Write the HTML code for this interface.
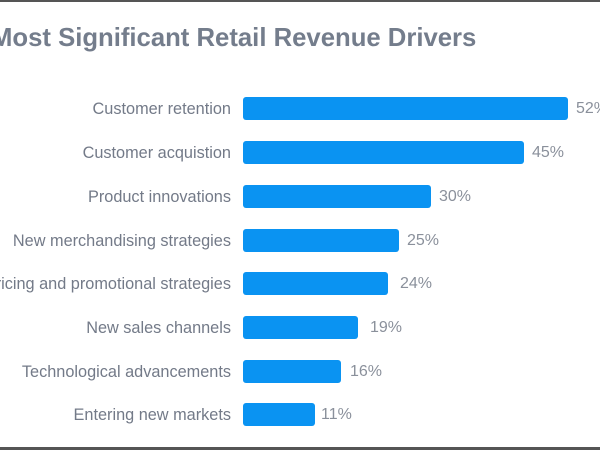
<!DOCTYPE html>
<html><head><style>
html,body{margin:0;padding:0;background:#fff;}
.w{position:relative;width:600px;height:450px;overflow:hidden;font-family:"Liberation Sans",sans-serif;}
.t{position:absolute;left:-9px;top:24px;font-size:25.7px;font-weight:bold;color:#747d8c;white-space:nowrap;}
.l{position:absolute;right:369px;font-size:16.3px;color:#737a88;white-space:nowrap;line-height:22px;}
.b{position:absolute;left:243px;height:23px;background:#0a93f2;border-radius:3px;}
.v{position:absolute;font-size:16px;color:#8a909b;line-height:22px;white-space:nowrap;}
.tl{position:absolute;left:0;top:0;width:600px;height:2px;background:#555;}
.bl{position:absolute;left:0;top:447px;width:600px;height:3px;background:#555;}
</style></head><body><div class="w">
<div class="tl"></div><div class="bl"></div>
<div class="t">Most Significant Retail Revenue Drivers</div>

<div class="l" style="top:98px">Customer retention</div><div class="b" style="top:97px;width:325px"></div><div class="v" style="left:576px;top:98px">52%</div>
<div class="l" style="top:142px">Customer acquistion</div><div class="b" style="top:141px;width:281px"></div><div class="v" style="left:532px;top:142px">45%</div>
<div class="l" style="top:186px">Product innovations</div><div class="b" style="top:185px;width:188px"></div><div class="v" style="left:439px;top:186px">30%</div>
<div class="l" style="top:230px">New merchandising strategies</div><div class="b" style="top:229px;width:156px"></div><div class="v" style="left:407px;top:230px">25%</div>
<div class="l" style="top:273px">Pricing and promotional strategies</div><div class="b" style="top:272px;width:145px"></div><div class="v" style="left:400px;top:273px">24%</div>
<div class="l" style="top:317px">New sales channels</div><div class="b" style="top:316px;width:115px"></div><div class="v" style="left:370px;top:317px">19%</div>
<div class="l" style="top:361px">Technological advancements</div><div class="b" style="top:360px;width:98px"></div><div class="v" style="left:350px;top:361px">16%</div>
<div class="l" style="top:404px">Entering new markets</div><div class="b" style="top:403px;width:72px"></div><div class="v" style="left:321px;top:404px">11%</div>
</div></body></html>
